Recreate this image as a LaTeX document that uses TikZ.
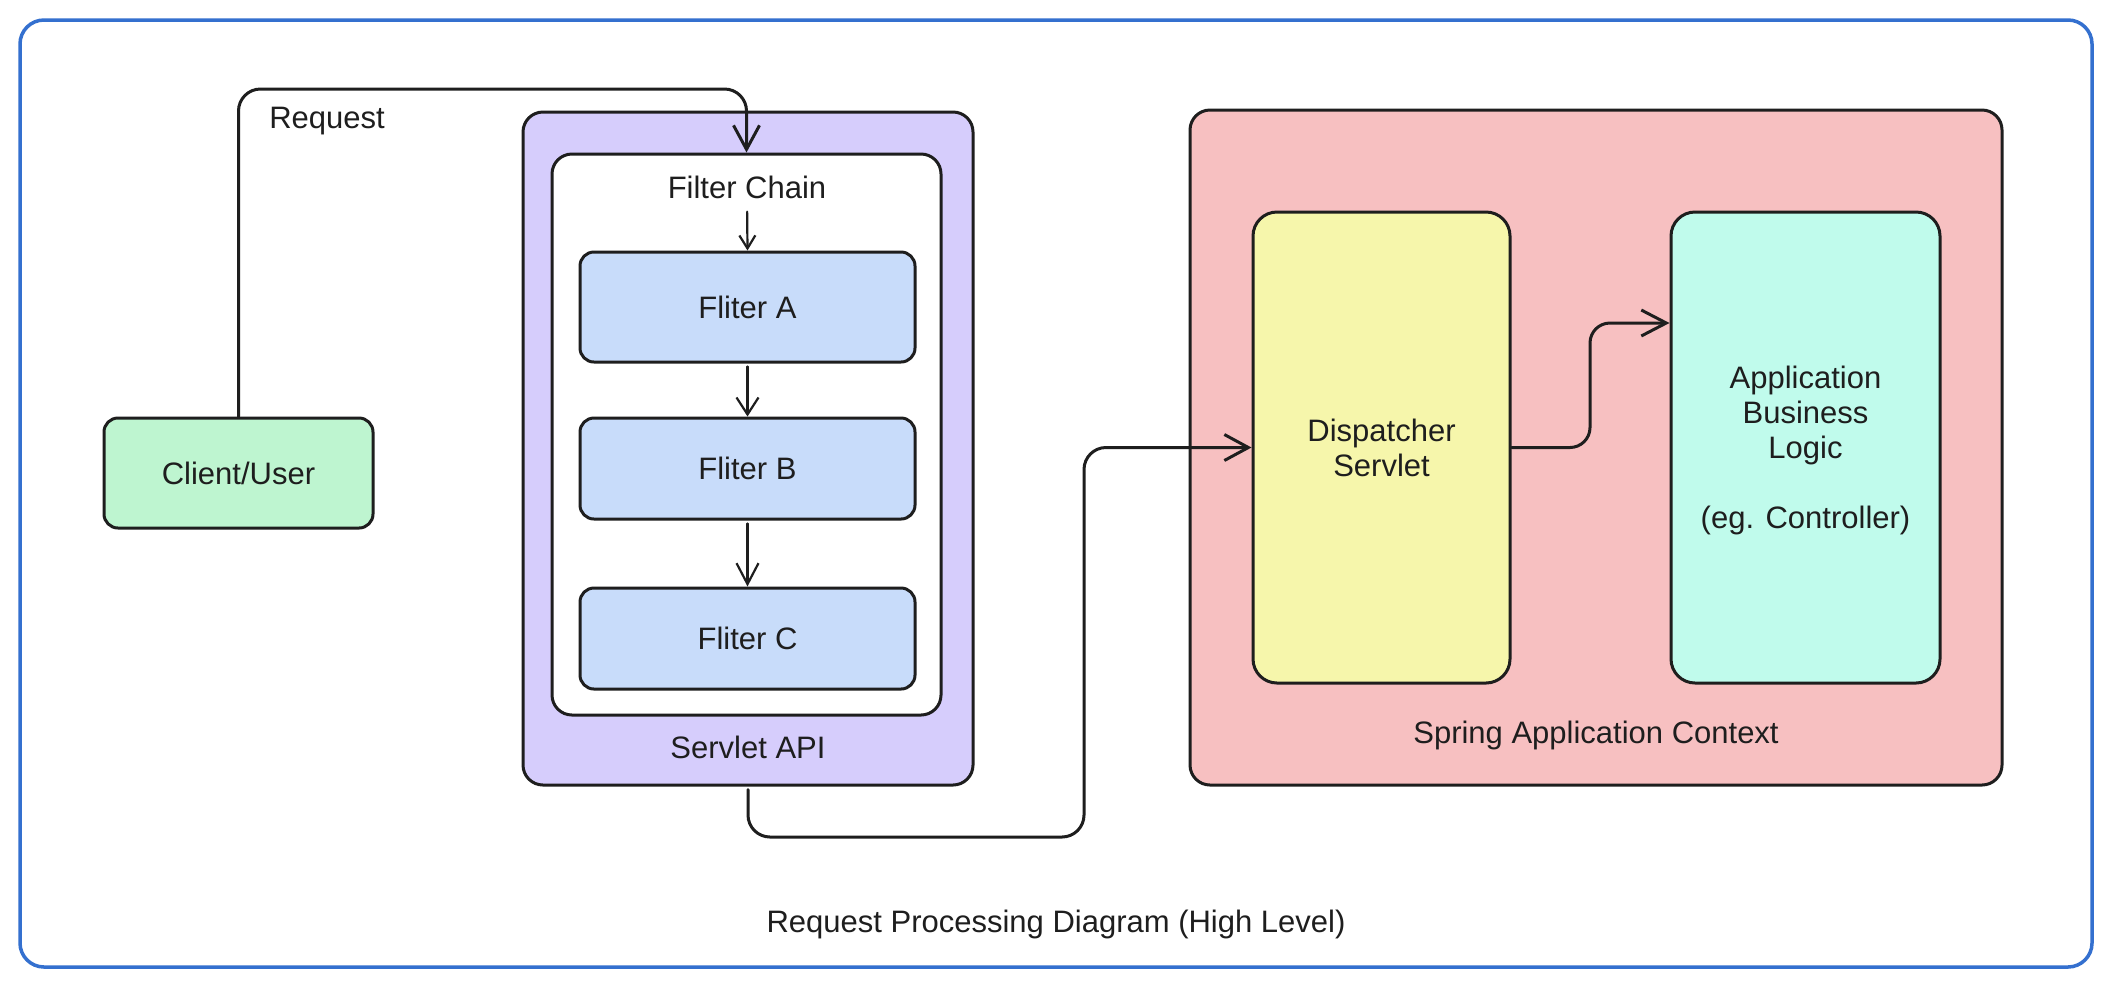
\documentclass[tikz,border=0pt]{standalone}
\usepackage{fontspec}
\setmainfont{Liberation Sans}
\usetikzlibrary{arrows.meta}
\definecolor{ink}{RGB}{30,30,30}
\definecolor{cgreen}{RGB}{190,245,208}
\definecolor{cpurple}{RGB}{214,205,252}
\definecolor{cblue}{RGB}{200,220,250}
\definecolor{cpink}{RGB}{247,192,193}
\definecolor{cyellow}{RGB}{246,246,171}
\definecolor{ccyan}{RGB}{192,251,236}
\definecolor{bordblue}{RGB}{52,112,207}
\begin{document}
\begin{tikzpicture}[x=0.5pt,y=-0.5pt,
  box/.style={draw=ink, line width=1.5pt, rounded corners=#1, inner sep=0pt},
  box/.default=7pt,
  txt/.style={font=\fontsize{15.5pt}{17.5pt}\selectfont, text=ink},
  capc/.style={text height=11.1pt, text depth=0pt},
  lbl/.style={txt, inner sep=0pt, anchor=base},
  conn/.style={draw=ink, line width=1.5pt, line cap=round, line join=round},
  thinconn/.style={draw=ink, line width=1.1pt, line cap=round, line join=round}]
\useasboundingbox[fill=white] (0,0) rectangle (2112,987);
% outer frame
\node[draw=bordblue, line width=1.75pt, rounded corners=12pt, minimum width=1036pt, minimum height=473.5pt, inner sep=0pt] (frame) at (1056,493.5) {};
% client
\node[box=7pt, fill=cgreen, minimum width=134.5pt, minimum height=55pt, txt, capc] (cl) at (238.5,473) {Client/User};
% servlet API container
\node[box=10pt, fill=cpurple, minimum width=225pt, minimum height=336.5pt] (sv) at (748,448.5) {};
\node[box=10pt, fill=white, minimum width=194.5pt, minimum height=280.5pt] (fch) at (746.5,434.5) {};
\node[box=7pt, fill=cblue, minimum width=167.5pt, minimum height=55pt, txt, capc] (fa) at (747.5,307) {Fliter A};
\node[box=7pt, fill=cblue, minimum width=167.5pt, minimum height=50.5pt, txt, capc] (fb) at (747.5,468.5) {Fliter B};
\node[box=7pt, fill=cblue, minimum width=167.5pt, minimum height=50.5pt, txt, capc] (fc) at (747.5,638.5) {Fliter C};
% spring context
\node[box=10pt, fill=cpink, minimum width=406pt, minimum height=337.5pt] (sp) at (1596,447.5) {};
\node[box=12pt, fill=cyellow, minimum width=128.5pt, minimum height=235.5pt, txt, align=center, text height=28.6pt, text depth=0pt] (ds) at (1381.5,447.5) {Dispatcher\\Servlet};
\node[box=12pt, fill=ccyan, minimum width=134.5pt, minimum height=235.5pt, txt, align=center, text height=81.1pt, text depth=0pt] (app) at (1805.5,447.5) {Application\\Business\\Logic\\[17.5pt](eg. Controller)};
% labels
\node[lbl] (rql) at (327,128) {Request};
\node[lbl] (fcl) at (747,198) {Filter Chain};
\node[lbl] (svl) at (748,758) {Servlet API};
\node[lbl] (spl) at (1596,743) {Spring Application Context};
\node[lbl] (ttl) at (1056,932) {Request Processing Diagram (High Level)};
% connectors
\coordinate (rqtop) at (500,89);
\draw[conn, -{Straight Barb[length=12pt,width=13pt]}, rounded corners=11pt] (cl.north) |- (rqtop) -| (fch.north);
\draw[thinconn, -{Straight Barb[length=6.5pt,width=8pt]}, shorten <=6.5pt] (fcl.south) -- (fa.north);
\draw[thinconn, -{Straight Barb[length=8.5pt,width=11pt]}, shorten <=1.5pt] (fa.south) -- (fb.north);
\draw[thinconn, -{Straight Barb[length=10.5pt,width=11pt]}, shorten <=1.5pt] (fb.south) -- (fc.north);
\coordinate (bend) at (1084,837);
\draw[conn, -{Straight Barb[length=12pt,width=13pt]}, rounded corners=11pt, shorten <=1.5pt] (sv.south) |- (bend) |- (ds.west);
\coordinate (up) at (1590,323);
\draw[conn, -{Straight Barb[length=12.5pt,width=13pt]}, rounded corners=10pt] (ds.east) -| (up) -- (app.west |- up);
\end{tikzpicture}
\end{document}
